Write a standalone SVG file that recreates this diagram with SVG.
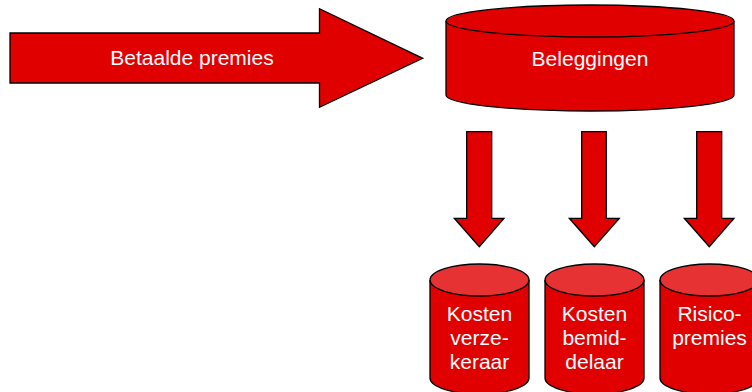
<svg xmlns="http://www.w3.org/2000/svg" width="752" height="392" viewBox="0 0 752 392">
<style>
.shape{fill:#e10000;stroke:#000;stroke-width:1.3;stroke-linejoin:miter}
.top{fill:#e63232;stroke:#000;stroke-width:1.3}
.lbl{font-family:"Liberation Sans",Arial,sans-serif;font-size:21px;fill:#fff;text-anchor:middle}
</style>
<rect width="752" height="392" fill="#fff"/>
<g id="betaalde-premies">
<polygon class="shape" points="10,33 319.5,33 319.5,8.7 422.7,58.3 319.5,107.3 319.5,83 10,83"/>
<text class="lbl" x="192" y="64.5">Betaalde premies</text>
</g>
<g id="beleggingen">
<path class="shape" d="M446,21 L446,95 A144,16 0 0 0 734,95 L734,21"/>
<ellipse class="shape" cx="590" cy="21" rx="144" ry="16"/>
<text class="lbl" x="590" y="65.5">Beleggingen</text>
</g>
<g id="connectors">
<polygon class="shape" points="466.7,131.7 491.7,131.7 491.7,218.3 504,218.3 479.3,246.7 454.3,218.3 466.7,218.3"/>
<polygon class="shape" points="581.7,131.7 606.3,131.7 606.3,218.3 619.3,218.3 594.3,246.7 569.3,218.3 581.7,218.3"/>
<polygon class="shape" points="696.7,131.7 721.7,131.7 721.7,218.3 734,218.3 709.3,246.7 684.3,218.3 696.7,218.3"/>
</g>
<g id="kosten-verzekeraar">
<path class="shape" d="M430,280 L430,378 A49.5,16 0 0 0 529,378 L529,280"/>
<ellipse class="top" cx="479.5" cy="280" rx="49.5" ry="16"/>
<text class="lbl" x="479.5" y="320.7">Kosten</text>
<text class="lbl" x="479.5" y="344.7">verze-</text>
<text class="lbl" x="479.5" y="368.7">keraar</text>
</g>
<g id="kosten-bemiddelaar">
<path class="shape" d="M545,280 L545,378 A49.5,16 0 0 0 644,378 L644,280"/>
<ellipse class="top" cx="594.5" cy="280" rx="49.5" ry="16"/>
<text class="lbl" x="594.5" y="320.7">Kosten</text>
<text class="lbl" x="594.5" y="344.7">bemid-</text>
<text class="lbl" x="594.5" y="368.7">delaar</text>
</g>
<g id="risicopremies">
<path class="shape" d="M660,280 L660,378 A49.5,16 0 0 0 759,378 L759,280"/>
<ellipse class="top" cx="709.5" cy="280" rx="49.5" ry="16"/>
<text class="lbl" x="709.5" y="320.7">Risico-</text>
<text class="lbl" x="709.5" y="344.7">premies</text>
</g>
</svg>
